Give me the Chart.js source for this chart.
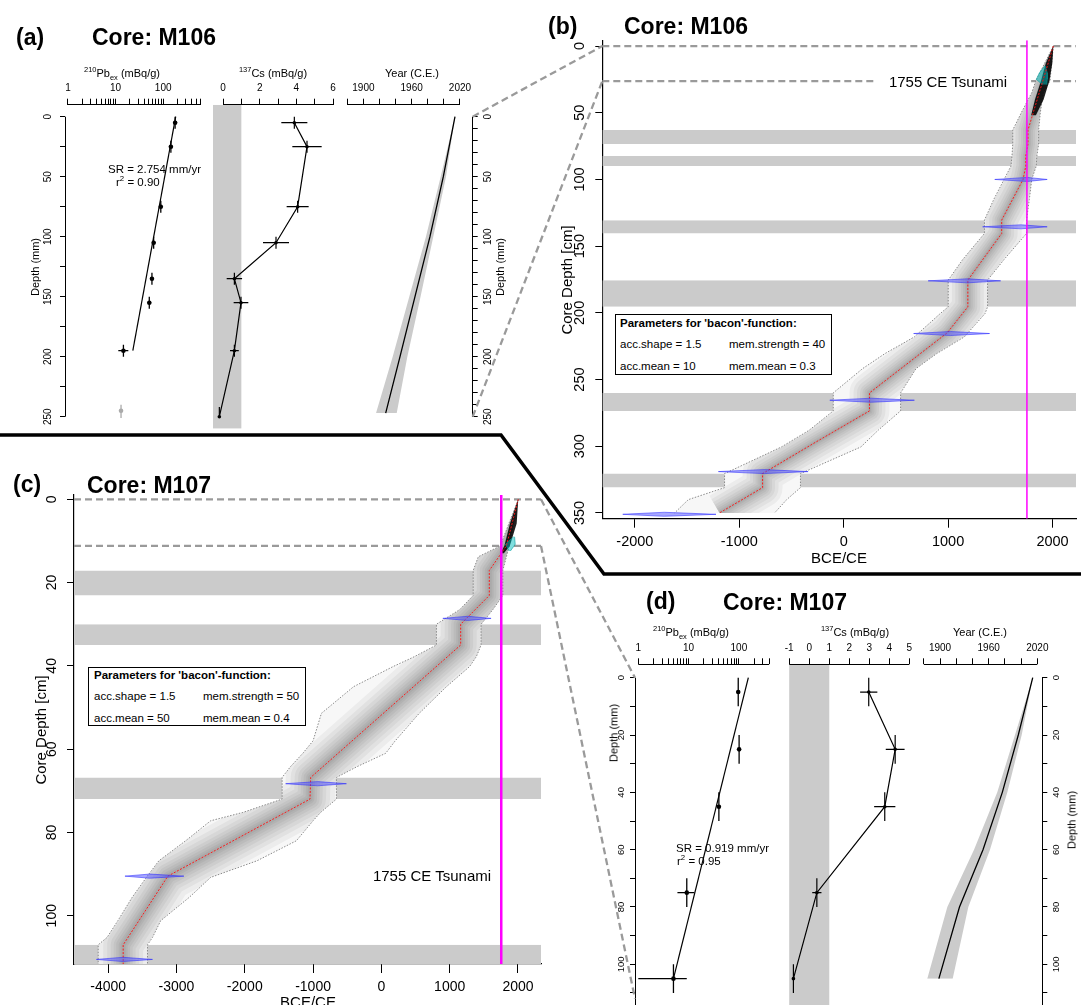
<!DOCTYPE html>
<html>
<head>
<meta charset="utf-8">
<title>Age-depth models M106 / M107</title>
<script src="https://cdn.jsdelivr.net/npm/chart.js@4.4.1/dist/chart.umd.min.js"></script>
<style>
  html, body { margin: 0; padding: 0; background: #fff; }
  body { width: 1081px; height: 1005px; position: relative; overflow: hidden;
         font-family: 'Liberation Sans', Arial, Helvetica, sans-serif; color: #000; }
  canvas { position: absolute; }
  .t { position: absolute; white-space: nowrap; line-height: 1; z-index: 5; }
  .c { transform: translate(-50%, -50%); }
  .l { transform: translate(0, -50%); }
  .rot { transform: translate(-50%, -50%) rotate(-90deg); }
  .panel { font-weight: bold; font-size: 23px; }
  .ax { font-size: 11px; }
  .big { font-size: 15px; }
  .sr { font-size: 11.5px; }
  .box { position: absolute; border: 1.5px solid #000; box-sizing: border-box; font-size: 11.5px; z-index: 5; background: #fff; }
  .box span { position: absolute; white-space: nowrap; line-height: 1; transform: translate(0, -50%); }
  sup, sub { font-size: 68%; line-height: 0; }
</style>
</head>
<body>

<!-- panel titles -->
<div class="t l panel" style="left:16px;top:37px">(a)</div>
<div class="t l panel" style="left:92px;top:37px">Core: M106</div>
<div class="t l panel" style="left:548px;top:26px">(b)</div>
<div class="t l panel" style="left:624px;top:26px">Core: M106</div>
<div class="t l panel" style="left:13px;top:484px">(c)</div>
<div class="t l panel" style="left:87px;top:485px">Core: M107</div>
<div class="t l panel" style="left:646px;top:601px">(d)</div>
<div class="t l panel" style="left:723px;top:602px">Core: M107</div>

<!-- axis titles, panel (a) -->
<div class="t c ax" style="left:122px;top:73px"><sup>210</sup>Pb<sub>ex</sub> (mBq/g)</div>
<div class="t c ax" style="left:273px;top:73px"><sup>137</sup>Cs (mBq/g)</div>
<div class="t c ax" style="left:412px;top:73px">Year (C.E.)</div>
<div class="t rot ax" style="left:35px;top:267px">Depth (mm)</div>
<div class="t rot ax" style="left:500px;top:267px">Depth (mm)</div>
<div class="t l sr" style="left:108px;top:170px">SR = 2.754 mm/yr</div>
<div class="t l sr" style="left:116px;top:183px">r<sup>2</sup> = 0.90</div>

<!-- axis titles, panel (d) -->
<div class="t c ax" style="left:691px;top:632px"><sup>210</sup>Pb<sub>ex</sub> (mBq/g)</div>
<div class="t c ax" style="left:855px;top:632px"><sup>137</sup>Cs (mBq/g)</div>
<div class="t c ax" style="left:980px;top:632px">Year (C.E.)</div>
<div class="t rot ax" style="left:614px;top:733px">Depth (mm)</div>
<div class="t rot ax" style="left:1072px;top:820px">Depth (mm)</div>
<div class="t l sr" style="left:676px;top:849px">SR = 0.919 mm/yr</div>
<div class="t l sr" style="left:677px;top:862px">r<sup>2</sup> = 0.95</div>

<!-- panel (b) texts -->
<div class="t rot big" style="left:566px;top:280px">Core Depth [cm]</div>
<div class="t c big" style="left:839px;top:557px">BCE/CE</div>
<div class="t c big" style="left:948px;top:81px">1755 CE Tsunami</div>
<div class="box" style="left:615px;top:314px;width:217px;height:61px">
  <span style="left:4px;top:9px;font-weight:bold">Parameters for 'bacon'-function:</span>
  <span style="left:4px;top:30px">acc.shape = 1.5</span>
  <span style="left:113px;top:30px">mem.strength = 40</span>
  <span style="left:4px;top:52px">acc.mean = 10</span>
  <span style="left:113px;top:52px">mem.mean = 0.3</span>
</div>

<!-- panel (c) texts -->
<div class="t rot big" style="left:40px;top:730px">Core Depth [cm]</div>
<div class="t c big" style="left:308px;top:1001px">BCE/CE</div>
<div class="t c big" style="left:432px;top:875px">1755 CE Tsunami</div>
<div class="box" style="left:88px;top:667px;width:218px;height:59px">
  <span style="left:5px;top:8px;font-weight:bold">Parameters for 'bacon'-function:</span>
  <span style="left:5px;top:29px">acc.shape = 1.5</span>
  <span style="left:114px;top:29px">mem.strength = 50</span>
  <span style="left:5px;top:51px">acc.mean = 50</span>
  <span style="left:114px;top:51px">mem.mean = 0.4</span>
</div>

<script>
// ---------- panel (a): core M106, short-lived radionuclides (depth in mm)
const pbA_depth  = [5, 25, 75, 105, 135, 155, 195];
const pbA_value  = [178, 145, 89, 63, 58, 51, 14.6];
const pbA_low    = [162, 132, 82, 58, 53, 47, 11.4];
const pbA_high   = [196, 160, 97, 69, 63, 56, 18.5];
const pbA_top    = [0, 20, 70, 100, 130, 150, 190];
const pbA_bottom = [10, 30, 80, 110, 140, 160, 200];
const pbA_outDepth = [245];
const pbA_outValue = [13];
const pbA_outTop = [240];
const pbA_outBottom = [251];
const pbA_fitDepth = [0, 195];
const pbA_fitValue = [183, 23];

const csA_depth  = [5, 25, 75, 105, 135, 155, 195, 250];
const csA_value  = [3.89, 4.58, 4.07, 2.89, 0.62, 0.98, 0.62, -0.2];
const csA_error  = [0.71, 0.8, 0.6, 0.71, 0.42, 0.4, 0.24, 0];
const csA_top    = [0, 20, 70, 100, 130, 150, 190, 242];
const csA_bottom = [10, 30, 80, 110, 140, 160, 200, 250];
const csLimit = [-1, 1];

const ageA_depth = [0, 50, 100, 150, 200, 247];
const ageA_year  = [2013.8, 1999.3, 1982.7, 1964.1, 1945.5, 1927.7];
const ageA_low   = [2013.8, 1996, 1977.7, 1957, 1936.4, 1915.7];
const ageA_high  = [2013.8, 2002.6, 1986.8, 1971, 1954.6, 1941.4];

// ---------- panel (d): core M107 (depth in mm)
const pbD_depth  = [5, 25, 45, 75, 105];
const pbD_value  = [97, 101, 40, 9.2, 5];
const pbD_low    = [92, 96, 37, 6.0, 1.0];
const pbD_high   = [102, 106, 43, 13.0, 9.2];
const pbD_top    = [0, 20, 40, 70, 100];
const pbD_bottom = [10, 30, 50, 80, 110];
const pbD_fitDepth = [0, 105];
const pbD_fitValue = [154, 5];

const csD_depth = [5, 25, 45, 75, 105];
const csD_value = [2.97, 4.29, 3.77, 0.38, -0.79];
const csD_error = [0.43, 0.47, 0.53, 0.23, 0.05];

const ageD_depth = [0, 20, 40, 60, 80, 105];
const ageD_year  = [2014.3, 1996.5, 1976.8, 1953, 1924, 1898.6];
const ageD_low   = [2014.3, 1992.4, 1970.6, 1941.9, 1909, 1884.3];
const ageD_high  = [2014.3, 2000.7, 1983, 1961.6, 1934.9, 1915.6];

// ---------- panel (b): bacon age model M106 (depth in cm, age in BCE/CE)
const tsunamiYear = 1755;
const tsunamiDepthB = 26.3;
const bandB_top    = [63, 82.5, 130.5, 175.5, 260, 320.5];
const bandB_bottom = [73.5, 90, 140.5, 195.5, 273.5, 331];
const medB_depth = [0, 63, 73.5, 82.5, 90, 100, 130.5, 140.5, 175.5, 195.5, 215, 260, 273.5, 297, 320.5, 331, 350];
const medB_year  = [2008, 1765, 1765, 1744, 1744, 1718, 1513, 1513, 1189, 1189, 991, 247, 247, -270, -777, -777, -1190];
const envB_depth = [0, 26, 35, 50, 63, 73.5, 82.5, 90, 100, 115, 130.5, 140.5, 160, 175.5, 195.5, 200.5, 218, 230.5, 241.8, 260, 273.5, 288, 300.5, 320.5, 331, 340, 350];
const envB_old   = [2008, 1840, 1801, 1701, 1619, 1619, 1612, 1602, 1536, 1437, 1348, 1348, 1140, 1001, 1001, 925, 677, 396, 181, -100, -100, -331, -596, -1141, -1141, -1488, -1620];
const envB_young = [2008, 1976, 1912, 1883, 1867, 1867, 1850, 1844, 1801, 1778, 1751, 1751, 1536, 1378, 1378, 1354, 1156, 892, 693, 545, 545, 330, 165, -414, -414, -546, -662];
const denseB_depth = [0, 13, 26, 40, 52];
const denseB_old   = [2008, 1935, 1890, 1832, 1795];
const denseB_young = [2008, 1998, 1970, 1915, 1840];
const pbModelB_depth = [15, 20, 25, 29];
const pbModelB_old   = [1925, 1875, 1845, 1905];
const pbModelB_young = [1932, 1950, 1950, 1945];
const dateB_depth = [100, 135.5, 176, 215.5, 265.5, 319, 351];
const dateB_min   = [1447, 1331, 809, 670, -133, -1200, -2116];
const dateB_max   = [1949, 1949, 1503, 1397, 677, -341, -1223];
const dateB_peak  = [1760, 1700, 1189, 1024, 264, -761, -1719];

// ---------- panel (c): bacon age model M107
const tsunamiDepthC = 11.2;
const bandC_top    = [17.1, 30, 66.8, 107];
const bandC_bottom = [23.1, 35, 72, 111.6];
const medC_depth = [0, 11.2, 17.1, 23.1, 30, 35, 66.8, 72, 90.5, 107, 111.6];
const medC_year  = [2004, 1830, 1580, 1580, 1161, 1161, -1035, -1045, -3126, -3780, -3780];
const envC_depth = [0, 11.2, 13.8, 17.1, 23.1, 26.5, 30, 35, 37.8, 40.2, 45, 51.4, 58, 61, 64.2, 66.8, 72, 75.2, 77.2, 82, 86.8, 90.8, 95.6, 101.2, 105.2, 107, 111.6];
const envC_old   = [2004, 1740, 1419, 1344, 1344, 1146, 806, 806, 482, 168, -407, -878, -1000, -1150, -1330, -1453, -1453, -2028, -2499, -2865, -3257, -3440, -3649, -3858, -4015, -4146, -4146];
const envC_young = [2004, 1870, 1830, 1778, 1778, 1632, 1460, 1460, 1390, 1290, 953, 554, 203, 63, -355, -658, -658, -890, -1000, -1244, -1819, -2499, -2813, -3231, -3350, -3424, -3424];
const denseC_depth = [0, 5.8, 11.2, 13];
const denseC_old   = [2004, 1883, 1800, 1740];
const denseC_young = [2004, 1981, 1880, 1790];
const pbModelC_depth = [9, 10.8, 12.4];
const pbModelC_old   = [1935, 1815, 1870];
const pbModelC_young = [1950, 1960, 1890];
const dateC_depth = [28.6, 68.3, 90.5, 110.5];
const dateC_min   = [900, -1401, -3754, -4172];
const dateC_max   = [1606, -512, -2891, -3351];
const dateC_peak  = [1266, -930, -3388, -3780];

// ---------- axis ranges and ticks
const pbRangeA = [0.865, 755];
const csRangeA = [-0.546, 6.38];
const yearRangeA = [1872.2, 2035.8];
const depthRangeA = [-10, 260];
const pbRangeD = [0.86, 599];
const csRangeD = [-1.25, 5.13];
const yearRangeD = [1870.4, 2026.1];
const depthRangeD = [-4.68, 121];
const xRangeB = [-2312, 2225];
const yRangeB = [-4.3, 354.3];
const xRangeC = [-4500, 2337];
const yRangeC = [-1.03, 111.6];

const pbTicksA = [1, 2, 3, 4, 5, 6, 7, 8, 9, 10, 20, 30, 40, 50, 60, 70, 80, 90, 100, 200, 300, 400, 500, 600];
const pbTicksD = [1, 2, 3, 4, 5, 6, 7, 8, 9, 10, 20, 30, 40, 50, 60, 70, 80, 90, 100, 200, 300, 400];
const pbLabels = [1, 10, 100];
const csTicksA = [0, 1, 2, 3, 4, 5, 6];
const csLabelsA = [0, 2, 4, 6];
const csTicksD = [-1, 0, 1, 2, 3, 4, 5];
const yearTicks = [1880, 1900, 1920, 1940, 1960, 1980, 2000, 2020];
const yearLabels = [1900, 1960, 2020];
const depthTicksA_left = [0, 25, 50, 75, 100, 125, 150, 175, 200, 225, 250];
const depthTicksA_right = [0, 10, 20, 30, 40, 50, 60, 70, 80, 90, 100, 110, 120, 130, 140, 150, 160, 170, 180, 190, 200, 210, 220, 230, 240, 250];
const depthLabelsA = [0, 50, 100, 150, 200, 250];
const depthTicksD = [0, 10, 20, 30, 40, 50, 60, 70, 80, 90, 100, 110, 120];
const depthLabelsD = [0, 20, 40, 60, 80, 100];
const xTicksB = [-2000, -1000, 0, 1000, 2000];
const yTicksB = [0, 50, 100, 150, 200, 250, 300, 350];
const xTicksC = [-4000, -3000, -2000, -1000, 0, 1000, 2000];
const yTicksC = [0, 20, 40, 60, 80, 100];

// ---------- style
const FONT = "'Liberation Sans', Arial, Helvetica, sans-serif";
Chart.defaults.font.family = FONT;
Chart.defaults.color = '#000';
const DASH = { color: '#9a9a9a', width: 2.3, dash: [7, 4] };
const BAND = '#cbcbcb';

// R-like axes: axis line only between first and last tick, rotated y labels, dashed depth markers,
// and the grey-scale age envelope clipped to its own bounds
const deco = {};
function alignPx(p) { return Math.round(p - 0.5) + 0.5; }
Chart.register({
  id: 'rStyle',
  beforeDatasetsDraw(chart) {
    const d = deco[chart.canvas.id];
    if (!d || !d.dashed) return;
    const ctx = chart.ctx, a = chart.chartArea, xs = chart.scales.x, ys = chart.scales.y;
    ctx.save();
    ctx.strokeStyle = DASH.color; ctx.lineWidth = DASH.width; ctx.setLineDash(DASH.dash);
    d.dashed.forEach(h => {
      const y = ys.getPixelForValue(h.depth);
      const segs = h.gap
        ? [[a.left, xs.getPixelForValue(h.gap[0])], [xs.getPixelForValue(h.gap[1]), a.right]]
        : [[a.left, a.right]];
      segs.forEach(s => { ctx.beginPath(); ctx.moveTo(s[0], y); ctx.lineTo(s[1], y); ctx.stroke(); });
    });
    ctx.restore();
  },
  beforeDatasetDraw(chart, args) {
    const ds = chart.data.datasets[args.index];
    if (!ds.clipTo) return;
    const lo = chart.getDatasetMeta(ds.clipTo[0]).data, hi = chart.getDatasetMeta(ds.clipTo[1]).data;
    const ctx = chart.ctx;
    ctx.save();
    ctx.beginPath();
    lo.forEach((p, i) => (i ? ctx.lineTo(p.x, p.y) : ctx.moveTo(p.x, p.y)));
    for (let i = hi.length - 1; i >= 0; i--) ctx.lineTo(hi[i].x, hi[i].y);
    ctx.closePath();
    ctx.clip();
  },
  afterDatasetDraw(chart, args) {
    if (chart.data.datasets[args.index].clipTo) chart.ctx.restore();
  },
  afterDraw(chart) {
    const d = deco[chart.canvas.id];
    if (!d) return;
    const ctx = chart.ctx, a = chart.chartArea;
    ctx.save();
    ctx.strokeStyle = '#000'; ctx.lineWidth = 1; ctx.setLineDash([]);
    (d.axisLines || []).forEach(id => {
      const s = chart.scales[id], t = s.ticks;
      const p0 = s.getPixelForValue(t[0].value), p1 = s.getPixelForValue(t[t.length - 1].value);
      ctx.beginPath();
      if (s.isHorizontal()) {
        const y = alignPx(s.position === 'top' ? a.top : a.bottom);
        ctx.moveTo(p0, y); ctx.lineTo(p1, y);
      } else {
        const x = alignPx(s.position === 'left' ? a.left : a.right);
        ctx.moveTo(x, p0); ctx.lineTo(x, p1);
      }
      ctx.stroke();
    });
    (d.yLabels || []).forEach(L => {
      const s = chart.scales.y;
      ctx.font = L.size + 'px ' + FONT;
      ctx.fillStyle = '#000'; ctx.textAlign = 'center'; ctx.textBaseline = 'middle';
      const x = L.side === 'left' ? a.left - L.offset : a.right + L.offset;
      L.values.forEach(v => {
        ctx.save();
        ctx.translate(x, s.getPixelForValue(v));
        ctx.rotate(-Math.PI / 2);
        ctx.fillText(String(v), 0, 0);
        ctx.restore();
      });
    });
    ctx.restore();
  }
});

// ---------- dataset helpers
function pts(xs, ys) { return xs.map((x, i) => ({ x: x, y: ys[i] })); }
function line(data, style) {
  return Object.assign({ data: data, borderColor: '#000', borderWidth: 1, pointRadius: 0, fill: false, clip: 0 }, style);
}
function dots(xs, ys, r, color) {
  return line(pts(xs, ys), { showLine: false, pointRadius: r, pointBackgroundColor: color, pointBorderWidth: 0, borderWidth: 0 });
}
function areaPair(depth, lo, hi, color, style) {
  return [line(pts(lo, depth), style), line(pts(hi, depth), Object.assign({}, style, { fill: '-1', backgroundColor: color }))];
}
function bandPair(x0, x1, d0, d1, color) {
  return areaPair([d0, d1], [x0, x0], [x1, x1], color, { borderWidth: 0 });
}
function kitePair(d, lo, hi, peak, h) {
  const st = { borderColor: 'rgba(40,40,255,0.7)', borderWidth: 0.8 };
  return areaPair([d - h, d, d + h], [peak, lo, peak], [peak, hi, peak], 'rgba(80,80,255,0.5)', st);
}
function hBars(depth, lo, hi) {
  const p = [];
  depth.forEach((d, i) => { p.push({ x: lo[i], y: d }, { x: hi[i], y: d }, { x: null, y: d }); });
  return p;
}
function vBars(xs, top, bottom) {
  const p = [];
  xs.forEach((v, i) => { p.push({ x: v, y: top[i] }, { x: v, y: bottom[i] }, { x: null, y: bottom[i] }); });
  return p;
}

// ---------- scale helpers
function xAxis(o) {
  return {
    type: o.type || 'linear', position: o.position, min: o.range[0], max: o.range[1], bounds: 'data',
    afterBuildTicks: s => { s.ticks = o.ticks.map(v => ({ value: v })); },
    afterFit: s => { s.height = o.size; },
    ticks: { autoSkip: false, maxRotation: 0, minRotation: 0, padding: o.pad, font: { size: o.font }, color: '#000',
             callback: v => (o.labels.includes(v) ? String(v) : '') },
    grid: { drawOnChartArea: false, drawTicks: true, tickLength: o.tick, color: '#000', lineWidth: 1 },
    border: { display: !!o.border, color: '#000', width: 1.2 }
  };
}
function yAxis(o) {
  return {
    type: 'linear', position: o.position || 'left', reverse: true, min: o.range[0], max: o.range[1], bounds: 'data',
    display: !!o.ticks,
    afterBuildTicks: s => { if (o.ticks) s.ticks = o.ticks.map(v => ({ value: v })); },
    afterFit: s => { s.width = o.size || 0; },
    ticks: { display: false },
    grid: { drawOnChartArea: false, drawTicks: true, tickLength: o.tick || 5, color: '#000', lineWidth: 1 },
    border: { display: !!o.border, color: '#000', width: 1.2 }
  };
}

const charts = {};
function makeChart(id, box, area, fit, datasets, scales, decoCfg) {
  const cv = document.createElement('canvas');
  cv.id = id; cv.width = box.w; cv.height = box.h;
  cv.style.left = box.x + 'px'; cv.style.top = box.y + 'px';
  document.body.appendChild(cv);
  deco[id] = decoCfg || {};
  const n = datasets.length;
  datasets.forEach((d, i) => { d.order = n - i; });
  const chart = new Chart(cv, {
    type: 'line',
    data: { datasets: datasets },
    options: {
      responsive: false, animation: false, events: [], indexAxis: 'y',
      layout: { padding: {
        left: area.l - box.x - (fit.left || 0),
        right: box.x + box.w - area.r - (fit.right || 0),
        top: area.t - box.y - (fit.top || 0),
        bottom: box.y + box.h - area.b - (fit.bottom || 0) } },
      plugins: { legend: { display: false }, tooltip: { enabled: false } },
      elements: { point: { radius: 0 }, line: { tension: 0 } },
      scales: scales
    }
  });
  chart.$box = box;
  charts[id] = chart;
  return chart;
}

// ---------- small radionuclide panels
function pbPanel(id, box, area, p) {
  const ds = [
    line(pts(p.fitValue, p.fitDepth), { borderWidth: 1.2 }),
    line(hBars(p.depth, p.low, p.high), { borderWidth: 1.3 }),
    line(vBars(p.value, p.top, p.bottom), { borderWidth: 1.3 }),
    dots(p.value, p.depth, 2.3, '#000')
  ];
  if (p.outValue) {
    ds.push(line(vBars(p.outValue, p.outTop, p.outBottom), { borderColor: '#aaa', borderWidth: 1.3 }));
    ds.push(dots(p.outValue, p.outDepth, 2.3, '#aaa'));
  }
  return makeChart(id, box, area, { top: 30, left: 10 }, ds, {
    x: xAxis({ type: 'logarithmic', position: 'top', range: p.xRange, ticks: p.xTicks, labels: pbLabels, size: 30, tick: 6, pad: 4, font: 10 }),
    y: yAxis({ range: p.yRange, ticks: p.yTicks, size: 10, tick: 5 })
  }, { axisLines: ['x', 'y'], yLabels: [{ side: 'left', offset: p.labelOffset, size: p.labelSize, values: p.yLabels }] });
}
function csPanel(id, box, area, p) {
  const lo = p.value.map((v, i) => v - p.error[i]);
  const hi = p.value.map((v, i) => v + p.error[i]);
  const ds = [].concat(
    bandPair(csLimit[0], csLimit[1], p.yRange[0], p.yRange[1], BAND),
    [line(pts(p.value, p.depth), { borderWidth: 1.2 }),
     line(hBars(p.depth, lo, hi), { borderWidth: 1.2 }),
     line(vBars(p.value, p.top, p.bottom), { borderWidth: 1.2 }),
     dots(p.value, p.depth, 1.8, '#000')]
  );
  return makeChart(id, box, area, { top: 30 }, ds, {
    x: xAxis({ position: 'top', range: p.xRange, ticks: p.xTicks, labels: p.xLabels, size: 30, tick: 6, pad: 4, font: 10 }),
    y: yAxis({ range: p.yRange })
  }, { axisLines: ['x'] });
}
function agePanel(id, box, area, p) {
  const ds = [].concat(
    areaPair(p.depth, p.low, p.high, BAND, { borderWidth: 0 }),
    [line(pts(p.year, p.depth), { borderWidth: 1.3 })]
  );
  return makeChart(id, box, area, { top: 30, right: 10 }, ds, {
    x: xAxis({ position: 'top', range: p.xRange, ticks: yearTicks, labels: yearLabels, size: 30, tick: 6, pad: 4, font: 10 }),
    y: yAxis({ position: 'right', range: p.yRange, ticks: p.yTicks, size: 10, tick: 5 })
  }, { axisLines: ['x', 'y'], yLabels: [{ side: 'right', offset: p.labelOffset, size: p.labelSize, values: p.yLabels }] });
}

// panel (a)
const aTop = 104.7, aBot = 428.7;
pbPanel('aPb', { x: 20, y: 60, w: 215, h: 385 }, { l: 65, t: aTop, r: 205, b: aBot }, {
  depth: pbA_depth, value: pbA_value, low: pbA_low, high: pbA_high, top: pbA_top, bottom: pbA_bottom,
  outDepth: pbA_outDepth, outValue: pbA_outValue, outTop: pbA_outTop, outBottom: pbA_outBottom,
  fitDepth: pbA_fitDepth, fitValue: pbA_fitValue, xRange: pbRangeA, xTicks: pbTicksA,
  yRange: depthRangeA, yTicks: depthTicksA_left, yLabels: depthLabelsA, labelOffset: 16.5, labelSize: 10 });
csPanel('aCs', { x: 190, y: 60, w: 170, h: 385 }, { l: 213, t: aTop, r: 340, b: aBot }, {
  depth: csA_depth, value: csA_value, error: csA_error, top: csA_top, bottom: csA_bottom,
  xRange: csRangeA, xTicks: csTicksA, xLabels: csLabelsA, yRange: depthRangeA });
agePanel('aAge', { x: 320, y: 60, w: 200, h: 385 }, { l: 341, t: aTop, r: 472.7, b: aBot }, {
  depth: ageA_depth, year: ageA_year, low: ageA_low, high: ageA_high, xRange: yearRangeA,
  yRange: depthRangeA, yTicks: depthTicksA_right, yLabels: depthLabelsA, labelOffset: 15.5, labelSize: 10 });

// panel (d)
const dTop = 664.3, dBot = 1024.5;
pbPanel('dPb', { x: 595, y: 630, w: 200, h: 410 }, { l: 635, t: dTop, r: 778, b: dBot }, {
  depth: pbD_depth, value: pbD_value, low: pbD_low, high: pbD_high, top: pbD_top, bottom: pbD_bottom,
  fitDepth: pbD_fitDepth, fitValue: pbD_fitValue, xRange: pbRangeD, xTicks: pbTicksD,
  yRange: depthRangeD, yTicks: depthTicksD, yLabels: depthLabelsD, labelOffset: 14, labelSize: 9.5 });
csPanel('dCs', { x: 770, y: 630, w: 160, h: 410 }, { l: 784.2, t: dTop, r: 912, b: dBot }, {
  depth: csD_depth, value: csD_value, error: csD_error, top: pbD_top, bottom: pbD_bottom,
  xRange: csRangeD, xTicks: csTicksD, xLabels: csTicksD, yRange: depthRangeD });
agePanel('dAge', { x: 900, y: 630, w: 181, h: 410 }, { l: 916, t: dTop, r: 1042.3, b: dBot }, {
  depth: ageD_depth, year: ageD_year, low: ageD_low, high: ageD_high, xRange: yearRangeD,
  yRange: depthRangeD, yTicks: depthTicksD, yLabels: depthLabelsD, labelOffset: 14.5, labelSize: 9.5 });

// ---------- bacon age-depth panels
function baconPanel(id, box, area, p) {
  const ds = [];
  p.bandTop.forEach((t, i) => ds.push(...bandPair(p.xRange[0], p.xRange[1], t, p.bandBottom[i], BAND)));
  // envelope: light base, then soft grey layers around the median, clipped to the bounds
  const envIdx = ds.length;
  ds.push(...areaPair(p.envDepth, p.envOld, p.envYoung, '#f7f7f7', { borderWidth: 0 }));
  p.halo.forEach(w => ds.push(line(pts(p.medYear, p.medDepth),
    { borderColor: 'rgba(0,0,0,' + p.haloAlpha + ')', borderWidth: w, clipTo: [envIdx, envIdx + 1], borderJoinStyle: 'round' })));
  ds.push(...areaPair(p.envDepth, p.envOld, p.envYoung, 'rgba(0,0,0,0)',
    { borderColor: '#8a8a8a', borderWidth: 1, borderDash: [1.5, 1.5] }));
  ds.push(...areaPair(p.denseDepth, p.denseOld, p.denseYoung, 'rgba(0,0,0,0.88)', { borderWidth: 0 }));
  ds.push(...areaPair(p.pbDepth, p.pbOld, p.pbYoung, 'rgba(0,190,190,0.5)', { borderColor: 'rgba(0,150,150,0.7)', borderWidth: 0.8 }));
  ds.push(line(pts(p.medYear, p.medDepth), { borderColor: 'rgba(255,20,20,0.95)', borderWidth: 1, borderDash: [2, 1.5] }));
  p.dateDepth.forEach((d, i) => ds.push(...kitePair(d, p.dateMin[i], p.dateMax[i], p.datePeak[i], p.kiteH)));
  ds.push(line(pts([tsunamiYear, tsunamiYear], p.yRange), { borderColor: '#ff00ff', borderWidth: p.magentaW }));
  return makeChart(id, box, area, { left: 10, bottom: 40 }, ds, {
    x: xAxis({ position: 'bottom', range: p.xRange, ticks: p.xTicks, labels: p.xTicks, size: 40, tick: 9, pad: 5.5, font: p.font, border: true }),
    y: yAxis({ range: p.yRange, ticks: p.yTicks, size: 10, tick: 7, border: true })
  }, { yLabels: [{ side: 'left', offset: p.labelOffset, size: p.font, values: p.yTicks }], dashed: p.dashed });
}

baconPanel('bBacon', { x: 550, y: 30, w: 531, h: 545 }, { l: 602.3, t: 40.3, r: 1076, b: 518.7 }, {
  bandTop: bandB_top, bandBottom: bandB_bottom, envDepth: envB_depth, envOld: envB_old, envYoung: envB_young,
  medDepth: medB_depth, medYear: medB_year, denseDepth: denseB_depth, denseOld: denseB_old, denseYoung: denseB_young,
  pbDepth: pbModelB_depth, pbOld: pbModelB_old, pbYoung: pbModelB_young,
  dateDepth: dateB_depth, dateMin: dateB_min, dateMax: dateB_max, datePeak: dateB_peak, kiteH: 1.5,
  halo: [40, 32, 25, 19, 14, 10, 6, 3], haloAlpha: 0.045, magentaW: 1.5,
  xRange: xRangeB, yRange: yRangeB, xTicks: xTicksB, yTicks: yTicksB, font: 14.5, labelOffset: 22,
  dashed: [{ depth: 0 }, { depth: tsunamiDepthB, gap: [300, 1795] }] });

baconPanel('cBacon', { x: 25, y: 480, w: 540, h: 525 }, { l: 74, t: 495, r: 541, b: 964 }, {
  bandTop: bandC_top, bandBottom: bandC_bottom, envDepth: envC_depth, envOld: envC_old, envYoung: envC_young,
  medDepth: medC_depth, medYear: medC_year, denseDepth: denseC_depth, denseOld: denseC_old, denseYoung: denseC_young,
  pbDepth: pbModelC_depth, pbOld: pbModelC_old, pbYoung: pbModelC_young,
  dateDepth: dateC_depth, dateMin: dateC_min, dateMax: dateC_max, datePeak: dateC_peak, kiteH: 0.5,
  halo: [50, 40, 32, 25, 19, 14, 9, 5], haloAlpha: 0.045, magentaW: 2.5,
  xRange: xRangeC, yRange: yRangeC, xTicks: xTicksC, yTicks: yTicksC, font: 14, labelOffset: 21.5,
  dashed: [{ depth: 0 }, { depth: tsunamiDepthC }] });

// ---------- overlay: zoom connectors and panel separator
const ov = document.createElement('canvas');
ov.width = 1081; ov.height = 1005;
ov.style.left = '0px'; ov.style.top = '0px'; ov.style.zIndex = 3;
document.body.appendChild(ov);
const g = ov.getContext('2d');

function edgePoint(ch, side, depth) {
  const a = ch.chartArea;
  return [ch.$box.x + (side === 'right' ? a.right : a.left), ch.$box.y + ch.scales.y.getPixelForValue(depth)];
}
function connector(p1, p2) {
  g.save();
  g.strokeStyle = DASH.color; g.lineWidth = DASH.width; g.setLineDash(DASH.dash);
  g.beginPath(); g.moveTo(p1[0], p1[1]); g.lineTo(p2[0], p2[1]); g.stroke();
  g.restore();
}
connector(edgePoint(charts.aAge, 'right', depthLabelsA[0]), edgePoint(charts.bBacon, 'left', 0));
connector(edgePoint(charts.aAge, 'right', depthLabelsA[depthLabelsA.length - 1]), edgePoint(charts.bBacon, 'left', tsunamiDepthB));
connector(edgePoint(charts.cBacon, 'right', 0), edgePoint(charts.dPb, 'left', 0));
connector(edgePoint(charts.cBacon, 'right', tsunamiDepthC), edgePoint(charts.dPb, 'left', tsunamiDepthC * 10));

g.strokeStyle = '#000'; g.lineWidth = 3.5; g.lineJoin = 'miter';
g.beginPath();
g.moveTo(0, 435); g.lineTo(501, 435); g.lineTo(604, 574); g.lineTo(1081, 574);
g.stroke();
</script>
</body>
</html>
